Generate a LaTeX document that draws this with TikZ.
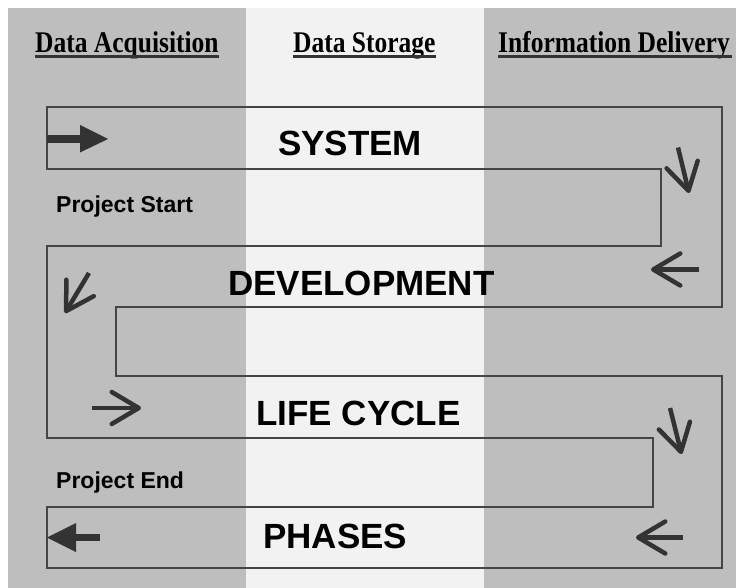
\documentclass[tikz,border=0pt]{standalone}
\usepackage{fontspec}
\setmainfont{Liberation Serif}
\newfontfamily\hdrfont[FakeStretch=0.85]{Liberation Serif}
\newfontfamily\lblfont{Liberation Sans}
\usetikzlibrary{arrows.meta}
\definecolor{bandgrey}{HTML}{BEBEBE}
\definecolor{bandlight}{HTML}{F2F2F2}
\definecolor{linegrey}{HTML}{454545}
\definecolor{arrowgrey}{HTML}{333333}
\tikzset{
  hdr/.style={anchor=base west, inner sep=0pt, text=black,
    font=\hdrfont\bfseries\fontsize{30}{36}\selectfont},
  uline/.style={draw=arrowgrey, line width=2.5pt},
  bigtext/.style={anchor=base west, inner sep=0pt, text=black,
    font=\lblfont\bfseries\fontsize{35}{42}\selectfont},
  smalltext/.style={anchor=base west, inner sep=0pt, text=black,
    font=\lblfont\bfseries\fontsize{23}{27}\selectfont},
  snake/.style={draw=linegrey, line width=1.3pt, line join=miter},
  openarrow/.style={draw=arrowgrey, line width=4.5pt,
    -{Straight Barb[length=27pt,width=32pt,round]}},
  thickshaft/.style={draw=arrowgrey, line width=7.5pt},
  tipfill/.style={fill=arrowgrey},
}
\begin{document}
\begin{tikzpicture}[x=1pt,y=-1pt]
\useasboundingbox (0,0) rectangle (736,588);
\fill[white] (0,0) rectangle (736,588);
% bands
\fill[bandgrey] (8,8) rectangle (246,588);
\fill[bandlight] (246,8) rectangle (484,588);
\fill[bandgrey] (484,8) rectangle (736,588);

% headers
\node[hdr] (hA) at (35,53) {Data Acquisition};
\node[hdr] (hS) at (293,53) {Data Storage};
\node[hdr] (hD) at (498,53) {Information Delivery};
\draw[uline] ([yshift=-3.5pt]hA.base west) -- ([yshift=-3.5pt]hA.base east);
\draw[uline] ([yshift=-3.5pt]hS.base west) -- ([yshift=-3.5pt]hS.base east);
\draw[uline] ([yshift=-3.5pt]hD.base west) -- ([xshift=2pt,yshift=-3.5pt]hD.base east);

% serpentine band
\draw[snake] (47,107) -- (722,107) -- (722,307) -- (116,307) -- (116,376)
  -- (722,376) -- (722,568) -- (47,568) -- (47,507) -- (653,507)
  -- (653,438) -- (47,438) -- (47,246) -- (661,246) -- (661,169)
  -- (47,169) -- cycle;

% texts
\node[bigtext] (sys) at (278,156) {SYSTEM};
\node[bigtext] (dev) at (228,295) {DEVELOPMENT};
\node[bigtext] (lc) at (256,425) {LIFE CYCLE};
\node[bigtext] (ph) at (263,548) {PHASES};
\node[smalltext] (ps) at (56,213) {Project Start};
\node[smalltext] (pe) at (56,488) {Project End};

% start arrow (filled)
\coordinate (s0) at (47,139);
\coordinate (s1) at (82,139);
\draw[thickshaft] (s0) -- (s1);
\fill[tipfill] (80,125) -- (108,139) -- (80,152.5) -- cycle;

% end arrow (filled)
\coordinate (e0) at (100,537.5);
\coordinate (e1) at (74,537.5);
\draw[thickshaft] (e0) -- (e1);
\fill[tipfill] (76,523) -- (47,537.5) -- (76,552) -- cycle;

% open arrows
\draw[openarrow] (678,147.5) -- (689,193);
\draw[openarrow] (699,269.5) -- (651,269.5);
\draw[openarrow] (89,273) -- (65,313);
\draw[openarrow] (92,408) -- (141,408);
\draw[openarrow] (670,408) -- (681.5,454);
\draw[openarrow] (683,537.5) -- (636,537.5);
\end{tikzpicture}
\end{document}
